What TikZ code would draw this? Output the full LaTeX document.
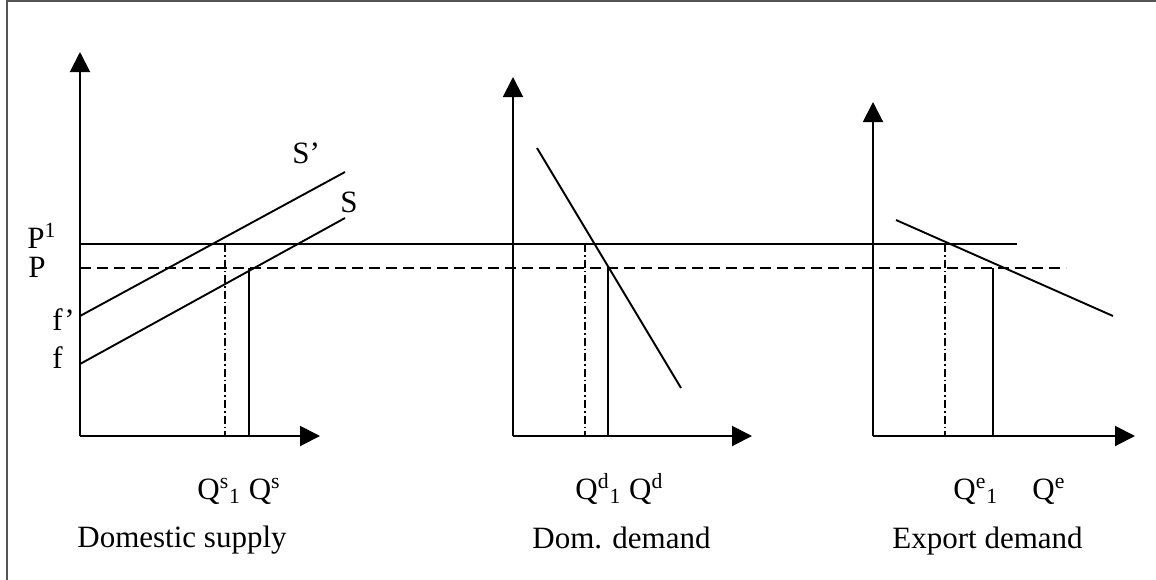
\documentclass[tikz,border=0pt]{standalone}
\usepackage{fontspec}
\setmainfont{Liberation Serif}
\usetikzlibrary{arrows.meta}
\definecolor{framegray}{RGB}{85,85,85}
\tikzset{
  axis/.style={-{Triangle[length=10pt,width=10pt]}, line width=1pt},
  curve/.style={line width=0.95pt},
  pricedash/.style={line width=0.95pt, dash pattern=on 5.5pt off 3pt},
  oldq/.style={line width=0.95pt, dash pattern=on 4pt off 1.5pt on 0.8pt off 1.5pt},
  lbl/.style={anchor=base west, inner sep=0pt, font=\fontsize{15.5}{18}\selectfont}
}

\begin{document}
\begin{tikzpicture}[x=0.5pt, y=-0.5pt]
  \useasboundingbox (0,0) rectangle (1156,579);
  \begin{scope}
    \clip (0,0) rectangle (1156,579);
    \draw[framegray, line width=1pt] (7,1) rectangle (1170,590);
  \end{scope}

  \coordinate (o1) at (80,436);  \coordinate (y1) at (80,52);  \coordinate (x1) at (320,436);
  \coordinate (o2) at (513,436); \coordinate (y2) at (513,77); \coordinate (x2) at (752,436);
  \coordinate (o3) at (873,436); \coordinate (y3) at (873,102); \coordinate (x3) at (1135,436);
  \draw[axis] (o1) -- (y1); \draw[axis] (o1) -- (x1);
  \draw[axis] (o2) -- (y2); \draw[axis] (o2) -- (x2);
  \draw[axis] (o3) -- (y3); \draw[axis] (o3) -- (x3);

  \coordinate (p1a) at (80,244); \coordinate (p1b) at (1017,244);
  \coordinate (pa) at (80,268);  \coordinate (pb) at (1066,268);
  \draw[curve] (p1a) -- (p1b);
  \draw[pricedash] (pa) -- (pb);

  \coordinate (sh0) at (80,316); \coordinate (sh1) at (345,172);
  \coordinate (s0) at (80,364);  \coordinate (s1) at (345,218);
  \draw[curve] (sh0) -- (sh1); \draw[curve] (s0) -- (s1);
  \coordinate (d0) at (537,148); \coordinate (d1) at (681,388);
  \draw[curve] (d0) -- (d1);
  \coordinate (e0) at (896,220); \coordinate (e1) at (1113,316);
  \draw[curve] (e0) -- (e1);

  \draw[oldq] (225,244) coordinate (qs1t) -- (225,436) coordinate (qs1b);
  \draw[curve] (249,268) coordinate (qst) -- (249,436) coordinate (qsb);
  \draw[oldq] (585,244) coordinate (qd1t) -- (585,436) coordinate (qd1b);
  \draw[curve] (608,268) coordinate (qdt) -- (608,436) coordinate (qdb);
  \draw[oldq] (945,244) coordinate (qe1t) -- (945,436) coordinate (qe1b);
  \draw[curve] (993,268) coordinate (qet) -- (993,436) coordinate (qeb);

  \node[lbl] (lsh) at (292,163) {S’};
  \node[lbl] (ls) at (340,212) {S};
  \node[lbl] (lp1) at (27,248) {P\textsuperscript{1}};
  \node[lbl] (lp) at (28,277) {P};
  \node[lbl] (lfh) at (52,330) {f’};
  \node[lbl] (lf) at (52,368) {f};
  \node[lbl] (lqs) at (197,499) {Q\textsuperscript{s}\textsubscript{1} Q\textsuperscript{s}};
  \node[lbl] (lqd) at (575,499) {Q\textsuperscript{d}\textsubscript{1} Q\textsuperscript{d}};
  \node[lbl] (lqe) at (953,499) {Q\textsuperscript{e}\textsubscript{1}\hspace{1.1em}Q\textsuperscript{e}};
  \node[lbl] (tsup) at (77,547) {Domestic supply};
  \node[lbl] (tdom) at (532,548) {Dom. demand};
  \node[lbl] (texp) at (892,548) {Export demand};
\end{tikzpicture}
\end{document}
